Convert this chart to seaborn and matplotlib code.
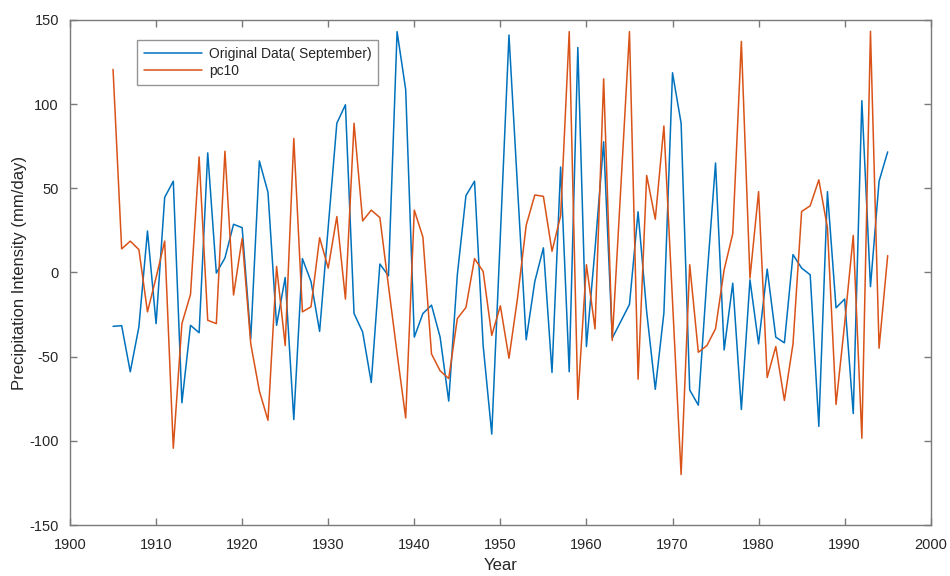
import matplotlib
matplotlib.use("Agg")
import matplotlib.pyplot as plt
import seaborn as sns
import pandas as pd

# years 1905..1995
years = list(range(1905, 1996))

original_sept = [
    -32, -31.6, -59, -32.4, 24.6, -30.4, 44.6, 54.2, -77.4, -31.4,
    -35.8, 71, -0.4, 8.6, 28.6, 26.6, -39.4, 66.2, 47.6, -31.4,
    -3, -87.4, 8.2, -5.4, -35, 27, 88.6, 99.6, -24.4, -35.4,
    -65.4, 5, -2, 143, 108.6, -38.4, -24.4, -19.4, -38.4, -76.4,
    -1.4, 45.6, 54.2, -43.4, -96, 22, 141, 50, -40, -5.4,
    14.6, -59.4, 62.6, -59, 133.6, -44, 14, 77.6, -39, -29,
    -19, 36, -23.4, -69.4, -24, 118.6, 88.6, -69.8, -78.8, -3.4,
    65, -46, -6.4, -81.4, -4.4, -42.4, 2, -38.4, -41.8, 10.6,
    2.6, -1.4, -91.4, 48, -21, -15.8, -83.8, 102, -8.4, 54.2,
    71.6,
]

pc10 = [
    120.6, 14, 18.6, 13.6, -23.4, -3, 18.6, -104.4, -30.4, -13,
    68.6, -28.4, -30.4, 72, -13.4, 20.2, -42.4, -70.4, -87.8, 3.6,
    -43.4, 79.6, -23.4, -20.4, 20.6, 2.6, 33.2, -15.8, 88.6, 30.6,
    37, 32.6, -8, -48, -86.4, 37, 21, -48.4, -58.4, -63,
    -27.4, -20.8, 8.2, 0.6, -37.4, -19.8, -51, -15, 28, 46,
    45.2, 12.6, 33.6, 143, -75.4, 4.6, -33.5, 115, -40.4, 51,
    143, -63.4, 57.6, 31.6, 87, -17, -120, 4.6, -47.4, -43.4,
    -33.4, 1.6, 23, 137.2, -3.4, 48, -62.4, -44, -76, -42.4,
    36.2, 39.6, 55, 26.6, -78.4, -30.4, 22, -98.4, 143.2, -45,
    10,
]

x_ticks = [1900, 1910, 1920, 1930, 1940, 1950, 1960, 1970, 1980, 1990, 2000]
y_ticks = [-150, -100, -50, 0, 50, 100, 150]

df = pd.DataFrame({"year": years, "orig": original_sept, "pc10": pc10})

sns.set_style("white")
plt.rcParams["font.family"] = ["Liberation Sans", "DejaVu Sans"]
plt.rcParams["axes.unicode_minus"] = False

fig = plt.figure(figsize=(9.5, 5.76), dpi=100)
ax = fig.add_axes([0.0737, 0.0885, 0.906, 0.877])

sns.lineplot(data=df, x="year", y="orig", ax=ax, color="#0072BD",
             linewidth=1.1, label="Original Data( September)")
sns.lineplot(data=df, x="year", y="pc10", ax=ax, color="#D95319",
             linewidth=1.1, label="pc10")

ax.set_xlim(1900, 2000)
ax.set_ylim(-150, 150)
ax.set_xticks(x_ticks)
ax.set_yticks(y_ticks)

ax.set_xlabel("Year", fontsize=12, color="#262626", labelpad=5)
ax.set_ylabel("Precipitation Intensity (mm/day)", fontsize=12, color="#262626", labelpad=2)

for s in ax.spines.values():
    s.set_visible(True)
    s.set_color("#7a7a7a")
    s.set_linewidth(1.0)

ax.tick_params(direction="in", length=5, width=1.0, color="#7a7a7a",
               labelsize=10.5, labelcolor="#262626",
               top=True, right=True, bottom=True, left=True)
ax.tick_params(axis="x", pad=9)
ax.tick_params(axis="y", pad=8)

leg = ax.legend(loc="upper left", bbox_to_anchor=(0.078, 0.961),
                fontsize=10, frameon=True, fancybox=False,
                borderpad=0.5, handlelength=4.2, handletextpad=0.45,
                labelspacing=0.25, borderaxespad=0)
leg.get_frame().set_edgecolor("#7a7a7a")
leg.get_frame().set_linewidth(1.0)

fig.savefig("out.png", dpi=100)
